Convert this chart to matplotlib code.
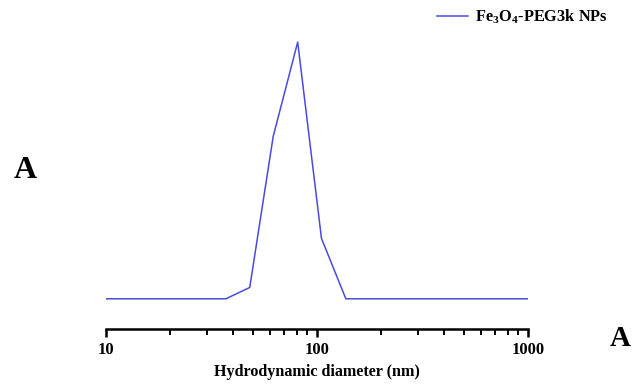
import matplotlib
matplotlib.use("Agg")
import matplotlib.pyplot as plt
from matplotlib.ticker import LogLocator, NullFormatter, FixedLocator, FixedFormatter

# Data
diameter_nm = [10, 37, 48, 62, 81, 105, 137, 1000]
intensity = [0, 0, 1.5, 21.5, 34, 8.0, 0, 0]
series_label = r"Fe$_3$O$_4$-PEG3k NPs"
x_ticks = [10, 100, 1000]
x_tick_labels = ["10", "100", "1000"]

plt.rcParams['font.family'] = ['Liberation Serif', 'DejaVu Serif']
plt.rcParams['mathtext.fontset'] = 'custom'
plt.rcParams['mathtext.rm'] = 'Liberation Serif:bold'
plt.rcParams['mathtext.it'] = 'Liberation Serif:bold'
plt.rcParams['mathtext.bf'] = 'Liberation Serif:bold'

W, H = 636, 390
fig = plt.figure(figsize=(W / 100, H / 100), dpi=100)
left, right, top, bottom = 106, 528, 30, 329
ax = fig.add_axes([left / W, 1 - bottom / H, (right - left) / W, (bottom - top) / H])

ax.plot(diameter_nm, intensity, color='#4a4ae0', lw=1.1)
ax.set_xscale('log')
ax.set_xlim(10, 1000)
ax.set_ylim(-4.0, 35.6)

for s in ['top', 'right', 'left']:
    ax.spines[s].set_visible(False)
ax.spines['bottom'].set_linewidth(1.8)
ax.set_yticks([])

ax.xaxis.set_major_locator(FixedLocator(x_ticks))
ax.xaxis.set_major_formatter(FixedFormatter(x_tick_labels))
ax.xaxis.set_minor_locator(LogLocator(base=10, subs=range(2, 10)))
ax.xaxis.set_minor_formatter(NullFormatter())
ax.tick_params(axis='x', which='major', direction='out', length=6, width=1.8,
               labelsize=12, pad=3)
ax.tick_params(axis='x', which='minor', direction='out', length=4, width=1.4)
for lbl in ax.get_xticklabels():
    lbl.set_fontweight('bold')

ax.set_xlabel("Hydrodynamic diameter (nm)", fontsize=11.6, fontweight='bold', labelpad=5)

leg = fig.legend([ax.lines[0]], [series_label], loc='upper left',
                 bbox_to_anchor=(437 / W, 1 - 8 / H), frameon=False,
                 borderpad=0, borderaxespad=0,
                 prop={'size': 11.8, 'weight': 'bold'}, handlelength=1.9,
                 handletextpad=0.4)

fig.text(25 / W, 1 - 171 / H, "A", fontsize=23, fontweight='bold', ha='center', va='center')
fig.text(620 / W, 1 - 338 / H, "A", fontsize=21, fontweight='bold', ha='center', va='center')

fig.savefig("out.png", dpi=100)
